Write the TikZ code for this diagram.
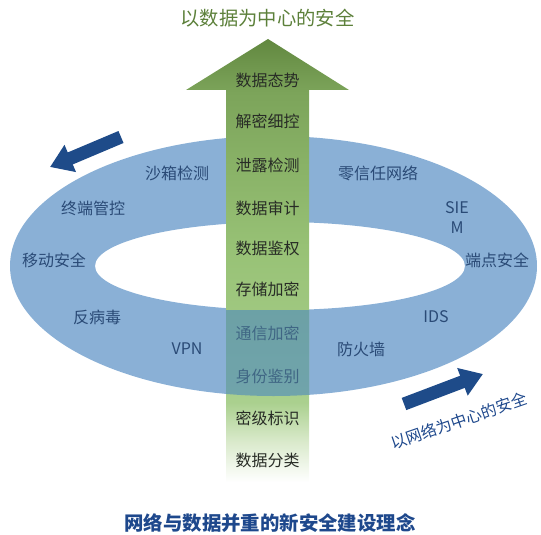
\documentclass[tikz,border=0pt]{standalone}
\usepackage{fontspec}
\setmainfont{Noto Sans CJK SC}
\usetikzlibrary{arrows.meta}
\definecolor{ringblue}{RGB}{138,176,214}
\definecolor{ringtxt}{RGB}{42,74,118}
\definecolor{shafttxt}{RGB}{40,44,38}
\definecolor{navy}{RGB}{30,75,137}
\definecolor{titlegreen}{RGB}{92,128,58}
\definecolor{titleblue}{RGB}{30,72,140}
\definecolor{overlayc}{RGB}{78,138,190}
\definecolor{gA}{RGB}{98,136,64}
\definecolor{gB}{RGB}{124,164,90}
\definecolor{gC}{RGB}{152,194,118}
\definecolor{gD}{RGB}{170,208,142}
\definecolor{gE}{RGB}{218,234,204}
\pgfdeclareverticalshading{shaftshade}{100bp}{color(0bp)=(white); color(25bp)=(white); color(29.5bp)=(gE); color(34bp)=(gD); color(51bp)=(gC); color(69bp)=(gB); color(75bp)=(gA); color(100bp)=(gA)}
\tikzset{
  shaftlbl/.style={text=shafttxt, font=\fontsize{16}{19}\selectfont, inner sep=0pt},
  ringlbl/.style={text=ringtxt, font=\fontsize{16}{19}\selectfont, inner sep=0pt, align=center},
  bluearrow/.style={draw=navy, line width=13pt, -{Triangle[length=22pt,width=28pt]}},
}
\begin{document}
\begin{tikzpicture}[x=1pt,y=-1pt]
\useasboundingbox (0,0) rectangle (541,535);
% ring
\fill[ringblue, even odd rule] (273.5,266) ellipse [x radius=263.5, y radius=130]
                               (280,266) ellipse [x radius=185, y radius=44];
% big arrow
\shade[shading=shaftshade] (268,39) -- (349,90) -- (309,90) -- (309,482) -- (226,482) -- (226,90) -- (186,90) -- cycle;
% shaft labels
\node[shaftlbl] (s1) at (267.5,80) {数据态势};
\node[shaftlbl] (s2) at (267.5,121) {解密细控};
\node[shaftlbl] (s3) at (267.5,165) {泄露检测};
\node[shaftlbl] (s4) at (267.5,208) {数据审计};
\node[shaftlbl] (s5) at (267.5,248) {数据鉴权};
\node[shaftlbl] (s6) at (267.5,289) {存储加密};
\node[shaftlbl] (s7) at (267.5,333) {通信加密};
\node[shaftlbl] (s8) at (267.5,376) {身份鉴别};
\node[shaftlbl] (s9) at (267.5,418) {密级标识};
\node[shaftlbl] (s10) at (267.5,460) {数据分类};
% overlay of lower ring over the shaft
\begin{scope}
  \clip (226,310) rectangle (309,400);
  \fill[overlayc, opacity=0.62, even odd rule] (273.5,266) ellipse [x radius=263.5, y radius=130]
                               (280,266) ellipse [x radius=185, y radius=44];
\end{scope}
% ring labels
\node[ringlbl] (r1) at (177,173) {沙箱检测};
\node[ringlbl] (r2) at (93,208) {终端管控};
\node[ringlbl] (r3) at (54,260) {移动安全};
\node[ringlbl] (r4) at (97,317) {反病毒};
\node[ringlbl] (r5) at (187,349) {VPN};
\node[ringlbl] (r6) at (378,173) {零信任网络};
\node[ringlbl, font=\fontsize{16}{20}\selectfont] (r7) at (457,218) {SIE\\M};
\node[ringlbl] (r8) at (497,260) {端点安全};
\node[ringlbl] (r9) at (436,317) {IDS};
\node[ringlbl] (r10) at (361,349) {防火墙};
% blue arrows
\coordinate (tlA) at (121,137);
\coordinate (tlB) at (50,167);
\draw[bluearrow] (tlA) -- (tlB);
\coordinate (brA) at (404,404);
\coordinate (brB) at (483,374);
\draw[bluearrow] (brA) -- (brB);
\node[text=titleblue, font=\fontsize{15.8}{18}\selectfont, rotate=19, inner sep=0pt] (net) at (459,421) {以网络为中心的安全};
% titles
\node[text=titlegreen, font=\fontsize{19.3}{23}\selectfont, inner sep=0pt] (top) at (267.5,18) {以数据为中心的安全};
\node[text=titleblue, font=\bfseries\fontsize{19.4}{23}\selectfont, inner sep=0pt] (bottom) at (270,523) {网络与数据并重的新安全建设理念};
\end{tikzpicture}
\end{document}
